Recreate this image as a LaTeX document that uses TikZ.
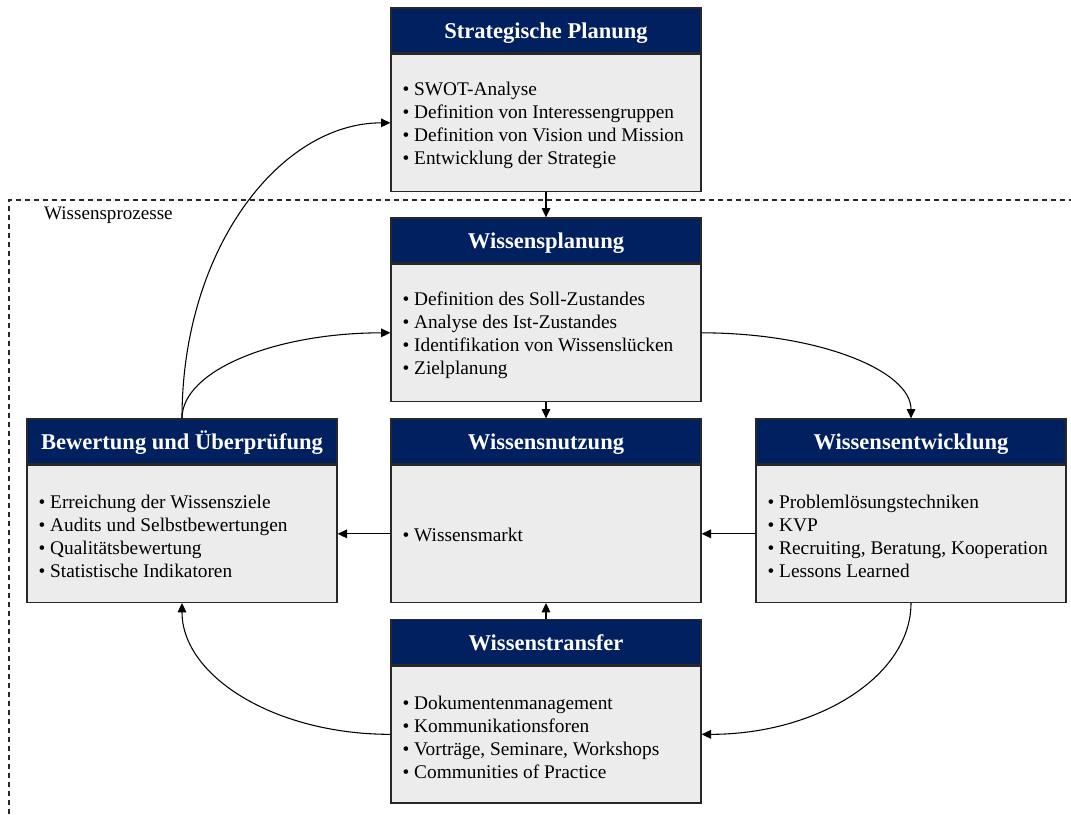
\documentclass[tikz,border=0pt]{standalone}
\usepackage{fontspec}
\setmainfont{Liberation Serif}
\usetikzlibrary{arrows.meta}
\definecolor{navy}{RGB}{0,32,96}
\definecolor{bodygray}{RGB}{236,236,236}
\definecolor{edgecol}{RGB}{40,40,40}
\tikzset{
 hdr/.style={draw=edgecol, line width=1pt, fill=navy, text=white,
   font=\fontsize{16.9}{19}\selectfont\bfseries,
   text height=12.5pt, text depth=0pt,
   minimum width=232.5pt, minimum height=33.75pt, inner sep=0pt},
 bdy/.style={draw=edgecol, line width=1pt, fill=bodygray,
   minimum width=232.5pt, minimum height=102.75pt, inner sep=0pt},
 btxt/.style={font=\fontsize{14.5}{17.25}\selectfont, align=left,
   inner sep=0pt, anchor=west},
 conn/.style={line width=0.8pt, -{Triangle[length=7pt,width=6.5pt]}},
 lbl/.style={font=\fontsize{14.3}{17}\selectfont},
 frame/.style={line width=0.8pt, edgecol, dash pattern=on 3.75pt off 3pt}
}
\begin{document}
\begin{tikzpicture}[x=0.75pt,y=-0.75pt]
\useasboundingbox (0,0) rectangle (1071,814);
% dashed frame of the knowledge processes
\draw[frame] (9,814) -- (9,200) -- (1071,200);
\node[lbl, anchor=west] (wplbl) at (39.5,215) {Wissensprozesse};

% Strategische Planung
\node[hdr] (sph) at (546,30.5) {Strategische Planung};
\node[bdy, anchor=north] (spb) at (sph.south) {};
\node[btxt] (spt) at ([xshift=9pt,yshift=-2pt]spb.west) {• SWOT-Analyse\\• Definition von Interessengruppen\\• Definition von Vision und Mission\\• Entwicklung der Strategie};

% Wissensplanung
\node[hdr] (wph) at (546,240.5) {Wissensplanung};
\node[bdy, anchor=north] (wpb) at (wph.south) {};
\node[btxt] (wpt) at ([xshift=9pt,yshift=-2pt]wpb.west) {• Definition des Soll-Zustandes\\• Analyse des Ist-Zustandes\\• Identifikation von Wissenslücken\\• Zielplanung};

% Bewertung und Ueberpruefung
\node[hdr] (buh) at (182,441.5) {Bewertung und Überprüfung};
\node[bdy, anchor=north] (bub) at (buh.south) {};
\node[btxt] (but) at ([xshift=9pt,yshift=-2pt]bub.west) {• Erreichung der Wissensziele\\• Audits und Selbstbewertungen\\• Qualitätsbewertung\\• Statistische Indikatoren};

% Wissensnutzung
\node[hdr] (wnh) at (546,441.5) {Wissensnutzung};
\node[bdy, anchor=north] (wnb) at (wnh.south) {};
\node[btxt] (wnt) at ([xshift=9pt,yshift=-1pt]wnb.west) {• Wissensmarkt};

% Wissensentwicklung
\node[hdr] (weh) at (911,441.5) {Wissensentwicklung};
\node[bdy, anchor=north] (web) at (weh.south) {};
\node[btxt] (wet) at ([xshift=9pt,yshift=-2pt]web.west) {• Problemlösungstechniken\\• KVP\\• Recruiting, Beratung, Kooperation\\• Lessons Learned};

% Wissenstransfer
\node[hdr] (wth) at (546,642) {Wissenstransfer};
\node[bdy, anchor=north] (wtb) at (wth.south) {};
\node[btxt] (wtt) at ([xshift=9pt,yshift=-2pt]wtb.west) {• Dokumentenmanagement\\• Kommunikationsforen\\• Vorträge, Seminare, Workshops\\• Communities of Practice};

% straight connectors
\draw[conn] (spb.south) -- (wph.north);
\draw[conn] (wpb.south) -- (wnh.north);
\draw[conn] (wth.north) -- (wnb.south);
\draw[conn] (web.west) -- (wnb.east);
\draw[conn] (wnb.west) -- (bub.east);

% curved connectors
\draw[conn] (buh.north) .. controls +(0,-170) and +(-110,0) .. (spb.west);
\draw[conn] (buh.north) .. controls +(0,-48) and +(-115,0) .. (wpb.west);
\draw[conn] (wpb.east) .. controls +(116,0) and +(0,-48) .. (weh.north);
\draw[conn] (web.south) .. controls +(0,73) and +(116,0) .. (wtb.east);
\draw[conn] (wtb.west) .. controls +(-116,0) and +(0,73) .. (bub.south);
\end{tikzpicture}
\end{document}
